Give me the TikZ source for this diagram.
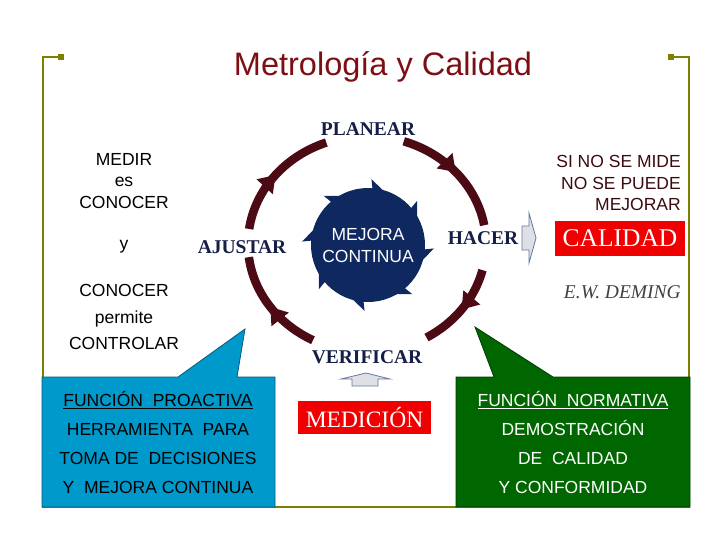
\documentclass[tikz,border=0pt]{standalone}
\usepackage{fontspec}
\setmainfont{Liberation Serif}
\setsansfont{Liberation Sans}
\usetikzlibrary{arrows.meta,decorations.markings,positioning}
\definecolor{olivo}{RGB}{128,128,0}
\definecolor{vino}{RGB}{75,10,20}
\definecolor{marino}{RGB}{15,40,95}
\definecolor{granate}{RGB}{125,15,20}
\definecolor{tinta}{RGB}{20,30,70}
\definecolor{lema}{RGB}{60,10,15}
\definecolor{azulcaja}{RGB}{0,153,204}
\definecolor{verdecaja}{RGB}{0,102,0}
\definecolor{rojo}{RGB}{240,0,0}
\definecolor{gris}{RGB}{222,224,230}
\definecolor{borde}{RGB}{100,120,160}

\begin{document}
\begin{tikzpicture}[
    x=1pt, y=-1pt,
    ring/.style={
        draw=vino,
        line width=8.5pt,
        postaction={decorate},
        decoration={markings, mark=at position 0.5 with {\arrow[vino]{Triangle[width=21pt,length=16pt]}}}
    },
    etapa/.style={
        font=\bfseries\fontsize{19.5}{20}\selectfont,
        text=tinta,
        inner sep=0pt
    },
    texto/.style={
        font=\sffamily\fontsize{17.5}{21.5}\selectfont,
        align=center,
        inner sep=0pt
    },
    caja/.style={
        fill=rojo,
        text=white,
        font=\fontsize{25.5}{25.5}\selectfont,
        inner sep=0pt
    },
    hueco/.style={
        fill=gris,
        draw=borde,
        line width=0.8pt
    }
]
\useasboundingbox (0,0) rectangle (728,546);

% =====================
% MARCO
% =====================
\draw[olivo, line width=2.5pt] (61,57) -- (43,57) -- (43,507) -- (689,507) -- (689,57) -- (671,57);
\fill[olivo] (58,54) rectangle (64,60);
\fill[olivo] (668,54) rectangle (674,60);

\node[font=\sffamily\fontsize{32.5}{32.5}\selectfont, text=granate] (titulo) at (383,67) {Metrología y Calidad};

% =====================
% CICLO
% =====================
\coordinate (ciclo) at (367,244);

\node[etapa] (planear) at (368,129) {PLANEAR};
\node[etapa] (hacer) at (483,238) {HACER};
\node[etapa] (verificar) at (367,357) {VERIFICAR};
\node[etapa] (ajustar) at (242,247) {AJUSTAR};

% ajustar -> planear
\draw[ring] (ciclo) ++(-172:119 and 108) arc[start angle=-172, end angle=-110, x radius=119, y radius=108];
% planear -> hacer
\draw[ring] (ciclo) ++(-72:119 and 108) arc[start angle=-72, end angle=-10, x radius=119, y radius=108];
% hacer -> verificar
\draw[ring] (ciclo) ++(14:119 and 108) arc[start angle=14, end angle=60, x radius=119, y radius=108];
% verificar -> ajustar
\draw[ring] (ciclo) ++(-243:119 and 108) arc[start angle=-243, end angle=-187, x radius=119, y radius=108];

% centro con puntas
\begin{scope}[shift={(368,245)}]
\foreach \a in {95,140,185,230,275,320,365,410}
    \fill[marino] (\a:54) -- (\a+16:54) -- (\a-2:66) -- cycle;
\end{scope}
\node[circle, fill=marino, minimum size=114pt, inner sep=0pt, text=white,
      font=\sffamily\fontsize{17.5}{22}\selectfont, align=center] (mejora) at (368,245) {MEJORA\\CONTINUA};

% =====================
% TEXTOS LATERALES
% =====================
\node[texto] (medir) at (124,181) {MEDIR\\es\\CONOCER};
\node[texto] (conj) at (124,247) {y};
\node[texto, font=\sffamily\fontsize{17.5}{26.5}\selectfont] (controlar) at (124,317) {CONOCER\\permite\\CONTROLAR};

\node[texto, align=right, anchor=east, text=lema] (mide) at (681,183) {SI NO SE MIDE\\NO SE PUEDE\\MEJORAR};
\node[caja, minimum width=130pt, minimum height=35pt] (calidad) at (620,238.5) {CALIDAD};
\node[font=\itshape\fontsize{19.5}{19.5}\selectfont, text=black!75, anchor=east, inner sep=0pt] (deming) at (681,292) {E.W. DEMING};

% flecha hueca hacia calidad
\draw[hueco] (522,226) -- (529,226) -- (529,213) -- (536,238) -- (529,263) -- (529,250) -- (522,250) -- cycle;

% =====================
% MEDICION
% =====================
\draw[hueco] (352,386) -- (352,379) -- (341,379) -- (366,373) -- (390,379) -- (378,379) -- (378,386) -- cycle;
\node[caja, font=\fontsize{23.5}{23.5}\selectfont, minimum width=133pt, minimum height=33pt] (medicion) at (364.5,417.5) {MEDICIÓN};

% =====================
% LLAMADAS
% =====================
\filldraw[fill=azulcaja, draw=azulcaja!60!black, line width=0.8pt]
    (42,377) -- (178,377) -- (245,329) -- (237,377) -- (275,377) -- (275,507) -- (42,507) -- cycle;
\node[texto, font=\sffamily\fontsize{17.5}{29}\selectfont, text=black] (proactiva) at (158,442.5)
    {\underline{FUNCIÓN\ \ PROACTIVA}\\HERRAMIENTA\ \ PARA\\TOMA DE\ \ DECISIONES\\Y\ \ MEJORA CONTINUA};

\filldraw[fill=verdecaja, draw=verdecaja!60!black, line width=0.8pt]
    (456,377) -- (494,377) -- (475,327) -- (553,377) -- (690,377) -- (690,507) -- (456,507) -- cycle;
\node[texto, font=\sffamily\fontsize{17.5}{29}\selectfont, text=white] (normativa) at (573,442.5)
    {\underline{FUNCIÓN\ \ NORMATIVA}\\DEMOSTRACIÓN\\DE\ \ CALIDAD\\Y CONFORMIDAD};

\end{tikzpicture}
\end{document}
